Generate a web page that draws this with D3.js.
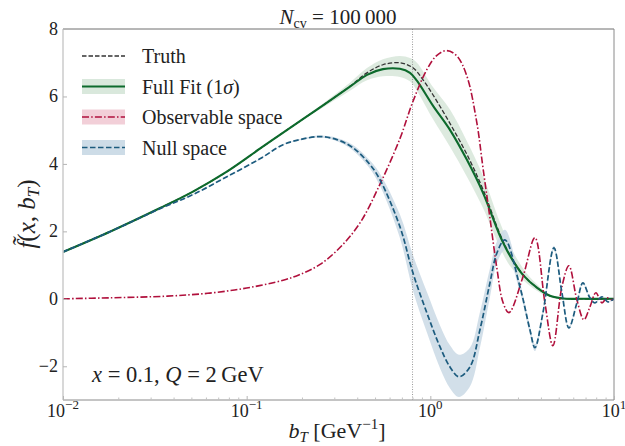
<!DOCTYPE html>
<html>
<head>
<meta charset="utf-8">
<script src="https://cdn.jsdelivr.net/npm/d3@7"></script>
<style>
  html, body { margin: 0; padding: 0; background: #fff; }
  svg { display: block; font-family: "Liberation Serif", "DejaVu Serif", serif; }
</style>
</head>
<body>
<svg id="chart" width="625" height="446"></svg>
<script>
// b_T grid points (GeV^-1) and values for each curve
const fitB  = [0.010, 0.018, 0.034, 0.051, 0.078, 0.118, 0.158, 0.241, 0.365, 0.452, 0.552, 0.683, 0.775, 0.845, 1.033, 1.279, 1.582, 1.933, 2.393, 2.712, 3.192, 3.805, 4.478, 5.27, 6.5, 10];
const fitV  = [1.39, 1.99, 2.70, 3.18, 3.77, 4.45, 4.93, 5.61, 6.29, 6.64, 6.81, 6.82, 6.70, 6.47, 5.73, 5.01, 4.12, 3.15, 1.87, 1.28, 0.71, 0.33, 0.09, 0.01, 0.0, 0.0];
const fitLo = [1.38, 1.98, 2.69, 3.17, 3.76, 4.44, 4.91, 5.56, 6.17, 6.48, 6.60, 6.58, 6.45, 6.17, 5.33, 4.51, 3.62, 2.70, 1.52, 0.98, 0.56, 0.24, 0.05, -0.02, -0.02, -0.02];
const fitHi = [1.40, 2.00, 2.71, 3.19, 3.78, 4.46, 4.95, 5.66, 6.41, 6.84, 7.10, 7.20, 7.14, 7.00, 6.28, 5.61, 4.67, 3.65, 2.27, 1.58, 0.91, 0.43, 0.13, 0.04, 0.02, 0.02];

const truthB = [0.010, 0.018, 0.034, 0.051, 0.078, 0.118, 0.158, 0.241, 0.365, 0.452, 0.552, 0.683, 0.804, 0.911, 1.033, 1.279, 1.582, 1.933, 2.393, 2.712, 3.192, 3.805, 4.478, 5.27, 6.5, 10];
const truthV = [1.39, 1.99, 2.70, 3.18, 3.77, 4.45, 4.93, 5.61, 6.30, 6.70, 6.94, 7.00, 6.85, 6.50, 6.05, 5.20, 4.28, 3.25, 1.92, 1.30, 0.72, 0.33, 0.09, 0.01, 0.0, 0.0];

const obsB = [0.010, 0.018, 0.037, 0.063, 0.100, 0.158, 0.195, 0.251, 0.322, 0.414, 0.532, 0.683, 0.804, 0.958, 1.086, 1.231, 1.396, 1.582, 1.794, 1.933, 2.111, 2.304, 2.485, 2.679, 3.192, 3.711, 4.206, 4.649, 5.205, 5.681, 6.281, 6.855, 7.394, 7.970, 8.594, 9.149, 9.741, 10];
const obsV = [0.0, 0.03, 0.08, 0.17, 0.32, 0.55, 0.72, 1.02, 1.52, 2.25, 3.40, 4.75, 5.85, 6.80, 7.22, 7.36, 7.20, 6.60, 5.20, 3.90, 2.40, 0.90, -0.10, -0.41, 0.65, 1.81, -0.12, -1.39, 0.36, 0.98, -0.03, -0.62, -0.24, 0.18, -0.12, 0.03, -0.03, 0.0];

const nullB  = [0.010, 0.018, 0.034, 0.051, 0.078, 0.118, 0.158, 0.195, 0.251, 0.310, 0.379, 0.469, 0.532, 0.683, 0.804, 0.958, 1.128, 1.279, 1.431, 1.643, 1.862, 2.111, 2.304, 2.548, 3.074, 3.486, 3.711, 4.102, 4.708, 5.205, 5.681, 6.281, 6.770, 7.394, 7.871, 8.594, 9.265, 10];
const nullV  = [1.39, 1.99, 2.68, 3.09, 3.62, 4.15, 4.57, 4.72, 4.81, 4.72, 4.48, 3.98, 3.53, 2.14, 0.77, -0.42, -1.42, -2.02, -2.31, -2.02, -0.92, 0.47, 1.36, 1.75, 0.36, -0.92, -1.45, -0.42, 1.51, 0.18, -0.86, -0.12, 0.47, 0.03, -0.12, 0.06, -0.09, 0.0];
const nullLo = [1.38, 1.98, 2.67, 3.08, 3.61, 4.14, 4.56, 4.70, 4.78, 4.67, 4.40, 3.86, 3.35, 1.80, 0.25, -1.00, -2.05, -2.65, -2.91, -2.60, -1.45, 0.05, 1.05, 1.45, 0.20, -1.05, -1.55, -0.50, 1.45, 0.14, -0.90, -0.15, 0.44, 0.01, -0.14, 0.04, -0.11, -0.02];
const nullHi = [1.40, 2.00, 2.69, 3.10, 3.63, 4.16, 4.58, 4.74, 4.84, 4.77, 4.56, 4.10, 3.71, 2.50, 1.30, 0.20, -0.78, -1.38, -1.66, -1.45, -0.40, 0.90, 1.70, 2.05, 0.50, -0.80, -1.35, -0.34, 1.57, 0.22, -0.82, -0.09, 0.50, 0.05, -0.10, 0.08, -0.07, 0.02];

const bMax = 0.8;
const xTicks = [0.01, 0.1, 1, 10];
const xTickExp = ["\u22122", "\u22121", "0", "1"];
const yTicks = [-2, 0, 2, 4, 6, 8];

const C = {
  fit: "#0d6a2c", fitBand: "#d9e8dc",
  truth: "#333333",
  obs: "#b0103c", obsBand: "#f2cfd8",
  nul: "#1c5b7e", nulBand: "#cddce7"
};

const L = 63, R = 614, T = 29, B = 400;
const svg = d3.select("#chart");
const x = d3.scaleLog().domain([0.01, 10]).range([L, R]);
const y = d3.scaleLinear().domain([-3, 8]).range([B, T]);

svg.append("defs").append("clipPath").attr("id", "plotClip")
  .append("rect").attr("x", L).attr("y", T).attr("width", R - L).attr("height", B - T);

const plot = svg.append("g").attr("clip-path", "url(#plotClip)");

const zip = (bs, vs) => bs.map((b, i) => [b, vs[i]]);
const zip3 = (bs, lo, hi) => bs.map((b, i) => [b, lo[i], hi[i]]);

const smooth = d3.curveCatmullRom.alpha(0.5);
const line = d3.line().x(d => x(d[0])).y(d => y(d[1])).curve(smooth);
const area = d3.area().x(d => x(d[0])).y0(d => y(d[1])).y1(d => y(d[2])).curve(smooth);

// uncertainty bands
plot.append("path").attr("d", area(zip3(fitB, fitLo, fitHi))).attr("fill", C.fitBand).attr("opacity", 0.9);
plot.append("path").attr("d", area(zip3(nullB, nullLo, nullHi))).attr("fill", C.nulBand).attr("opacity", 0.9);

// b_max marker
plot.append("line").attr("x1", x(bMax)).attr("x2", x(bMax)).attr("y1", T).attr("y2", B)
  .attr("stroke", "#9a9a9a").attr("stroke-width", 1).attr("stroke-dasharray", "1,1.5");

// curves
plot.append("path").attr("d", line(zip(truthB, truthV))).attr("fill", "none")
  .attr("stroke", C.truth).attr("stroke-width", 1.3).attr("stroke-dasharray", "4.5,2");
plot.append("path").attr("d", line(zip(fitB, fitV))).attr("fill", "none")
  .attr("stroke", C.fit).attr("stroke-width", 2.1);
plot.append("path").attr("d", line(zip(obsB, obsV))).attr("fill", "none")
  .attr("stroke", C.obs).attr("stroke-width", 1.6).attr("stroke-dasharray", "7,2.2,1.5,2.2");
plot.append("path").attr("d", line(zip(nullB, nullV))).attr("fill", "none")
  .attr("stroke", C.nul).attr("stroke-width", 1.7).attr("stroke-dasharray", "5.5,2.5");

// frame
svg.append("line").attr("x1", L).attr("x2", R).attr("y1", T).attr("y2", T).attr("stroke", "#6e6e6e").attr("stroke-width", 1);
svg.append("line").attr("x1", R).attr("x2", R).attr("y1", T).attr("y2", B).attr("stroke", "#8a8a8a").attr("stroke-width", 1);
svg.append("line").attr("x1", L).attr("x2", R).attr("y1", B).attr("y2", B).attr("stroke", "#8a8a8a").attr("stroke-width", 1);
svg.append("line").attr("x1", L).attr("x2", L).attr("y1", T).attr("y2", B).attr("stroke", "#cfcfcf").attr("stroke-width", 1.6);

// x axis ticks (major and minor, inward)
const xAxis = d3.axisBottom(x).tickValues(xTicks).tickSize(-4).tickFormat("");
const xg = svg.append("g").attr("transform", `translate(0,${B})`).call(xAxis);
xg.select(".domain").remove();
xg.selectAll(".tick line").attr("stroke", "#b5b5b5");
const minor = [];
for (let e = -2; e < 1; e++) for (let k = 2; k <= 9; k++) minor.push(k * Math.pow(10, e));
const xm = svg.append("g").attr("transform", `translate(0,${B})`)
  .call(d3.axisBottom(x).tickValues(minor).tickSize(-2.5).tickFormat(""));
xm.select(".domain").remove();
xm.selectAll(".tick line").attr("stroke", "#c2c2c2");

xTicks.forEach((t, i) => {
  const tx = svg.append("text").attr("x", x(t)).attr("y", 417).attr("text-anchor", "middle")
    .attr("font-size", 18).attr("fill", "#222");
  tx.append("tspan").text("10");
  tx.append("tspan").attr("font-size", 13).attr("dy", -8).text(xTickExp[i]);
});

// y axis ticks
const yg = svg.append("g").attr("transform", `translate(${L},0)`)
  .call(d3.axisLeft(y).tickValues(yTicks).tickSize(-4).tickFormat(""));
yg.select(".domain").remove();
yg.selectAll(".tick line").attr("stroke", "#b5b5b5");
yTicks.forEach(t => {
  svg.append("text").attr("x", 58).attr("y", y(t) + 6).attr("text-anchor", "end")
    .attr("font-size", 18).attr("fill", "#222").text(t < 0 ? "\u2212" + Math.abs(t) : String(t));
});

// axis titles
const xl = svg.append("text").attr("x", 337).attr("y", 438).attr("text-anchor", "middle")
  .attr("font-size", 22).attr("fill", "#222");
xl.append("tspan").attr("font-style", "italic").text("b");
xl.append("tspan").attr("font-style", "italic").attr("font-size", 15).attr("dy", 4).text("T");
xl.append("tspan").attr("dy", -4).text(" [GeV");
xl.append("tspan").attr("font-size", 15).attr("dy", -9).text("\u22121");
xl.append("tspan").attr("dy", 9).text("]");

const yl = svg.append("text").attr("transform", `translate(35,214) rotate(-90)`)
  .attr("text-anchor", "middle").attr("font-size", 25).attr("fill", "#222");
yl.append("tspan").attr("font-style", "italic").text("f\u0303");
yl.append("tspan").text("(");
yl.append("tspan").attr("font-style", "italic").text("x");
yl.append("tspan").text(", ");
yl.append("tspan").attr("font-style", "italic").text("b");
yl.append("tspan").attr("font-style", "italic").attr("font-size", 17).attr("dy", 4).text("T");
yl.append("tspan").attr("dy", -4).text(")");

// title
const tt = svg.append("text").attr("x", 338).attr("y", 24).attr("text-anchor", "middle")
  .attr("font-size", 21).attr("fill", "#222");
tt.append("tspan").attr("font-style", "italic").text("N");
tt.append("tspan").attr("font-size", 14).attr("dy", 4).text("cv");
tt.append("tspan").attr("dy", -4).text(" = 100\u2009000");

// kinematics annotation
const an = svg.append("text").attr("x", 92).attr("y", 382).attr("font-size", 22.5).attr("fill", "#222");
an.append("tspan").attr("font-style", "italic").text("x");
an.append("tspan").text(" = 0.1, ");
an.append("tspan").attr("font-style", "italic").text("Q");
an.append("tspan").text(" = 2\u2009GeV");

// legend
const legend = [
  { label: "Truth", color: C.truth, dash: "4.5,2", width: 1.3, band: null },
  { label: "Full Fit (1\u03c3)", color: C.fit, dash: null, width: 2.1, band: C.fitBand },
  { label: "Observable space", color: C.obs, dash: "7,2.2,1.5,2.2", width: 1.6, band: C.obsBand },
  { label: "Null space", color: C.nul, dash: "5.5,2.5", width: 1.7, band: C.nulBand }
];
const lg = svg.append("g");
legend.forEach((d, i) => {
  const cy = 56 + i * 30.5;
  if (d.band) lg.append("rect").attr("x", 82).attr("y", cy - 7.5).attr("width", 43).attr("height", 15).attr("fill", d.band);
  const ln = lg.append("line").attr("x1", 82).attr("x2", 125).attr("y1", cy).attr("y2", cy)
    .attr("stroke", d.color).attr("stroke-width", d.width);
  if (d.dash) ln.attr("stroke-dasharray", d.dash);
  const t = lg.append("text").attr("x", 142).attr("y", cy + 7).attr("font-size", 20).attr("fill", "#222");
  if (i === 1) {
    t.append("tspan").text("Full Fit (1");
    t.append("tspan").attr("font-style", "italic").text("\u03c3");
    t.append("tspan").text(")");
  } else {
    t.text(d.label);
  }
});
</script>
</body>
</html>
